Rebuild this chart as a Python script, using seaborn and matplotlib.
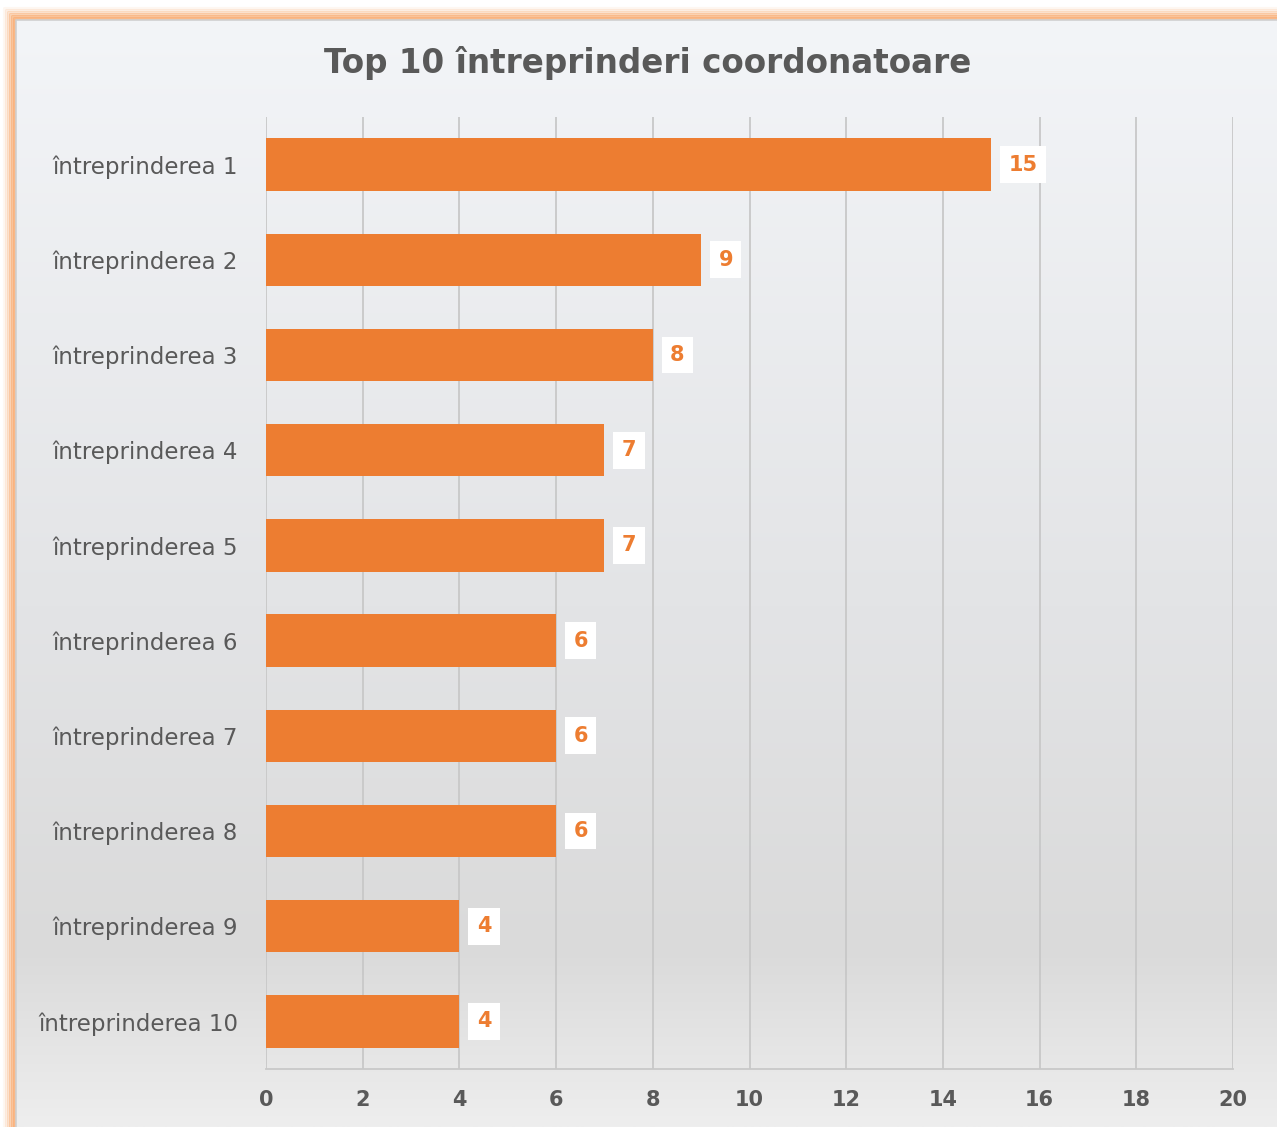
import numpy as np
import pandas as pd
import matplotlib
matplotlib.use("Agg")
import matplotlib.pyplot as plt
import seaborn as sns

categories = [f"întreprinderea {i}" for i in range(1, 11)]
values = [15, 9, 8, 7, 7, 6, 6, 6, 4, 4]
xticks = [0, 2, 4, 6, 8, 10, 12, 14, 16, 18, 20]
title = "Top 10 întreprinderi coordonatoare"

sns.set_theme(style="white")
plt.rcParams['font.family'] = ['DejaVu Sans']

W, H = 1277, 1127
fig = plt.figure(figsize=(W / 100, H / 100), dpi=100)
fig.patch.set_facecolor("white")

# background panel with gradient
bg = fig.add_axes([0, 0, 1, 1], zorder=0)
bg.set_xlim(0, W)
bg.set_ylim(H, 0)
bg.axis("off")
stops_y = np.array([0, 0.53, 0.84, 1.0])
stops_c = np.array([[243, 245, 248], [227, 228, 230], [218, 218, 218], [238, 238, 238]]) / 255
ys = np.linspace(0, 1, 400)
grad = np.stack([np.interp(ys, stops_y, stops_c[:, k]) for k in range(3)], axis=-1)
grad = np.repeat(grad[:, None, :], 2, axis=1)
bg.imshow(grad, extent=[15, W, H, 19], aspect="auto", zorder=1)
# orange glow border (outside the panel)
for off, a in [(1, 0.9), (3, 0.75), (5, 0.55), (7, 0.35), (9, 0.2), (11, 0.1)]:
    bg.plot([15 - off, 15 - off, W], [H, 19 - off, 19 - off], color="#f9b27c", lw=2.2,
            alpha=a, solid_capstyle="butt", zorder=2)
bg.plot([15.5, 15.5, W], [H, 19.5, 19.5], color="#d0d0d0", lw=1.2, zorder=3)

ax = fig.add_axes([266 / W, 1 - 1069 / H, (1233 - 266) / W, (1069 - 117) / H], zorder=2)
ax.patch.set_alpha(0)

df = pd.DataFrame({"cat": categories, "val": values})
sns.barplot(data=df, x="val", y="cat", orient="h", color="#ED7D31",
            saturation=1, width=0.55, linewidth=0, ax=ax, zorder=3)

ax.set_xlim(0, 20)
ax.set_ylim(9.5, -0.5)
ax.set_xticks(xticks)
ax.set_xticklabels([str(t) for t in xticks], fontsize=15, fontweight="bold", color="#595959")
ax.tick_params(axis="x", length=0, pad=15)
ax.tick_params(axis="y", length=0, pad=20)
for lbl in ax.get_yticklabels():
    lbl.set_fontsize(16.5)
    lbl.set_color("#595959")
ax.set_xlabel("")
ax.set_ylabel("")
ax.grid(axis="x", color="#c8c8c8", lw=1.3, zorder=0)
ax.set_axisbelow(True)
for s in ["top", "right", "left"]:
    ax.spines[s].set_visible(False)
ax.spines["bottom"].set_color("#c8c8c8")
ax.spines["bottom"].set_linewidth(1.3)

for i, v in enumerate(values):
    ax.annotate(str(v), xy=(v, i), xytext=(12.5, 0), textcoords="offset points",
                ha="left", va="center", fontsize=15, fontweight="bold", color="#ED7D31",
                bbox=dict(boxstyle="square,pad=0.4", fc="white", ec="none"), zorder=5)

fig.text(648 / W, 1 - 63 / H, title, ha="center", va="center", fontsize=23.5,
         fontweight="bold", color="#595959")

fig.savefig("out.png", dpi=100)
